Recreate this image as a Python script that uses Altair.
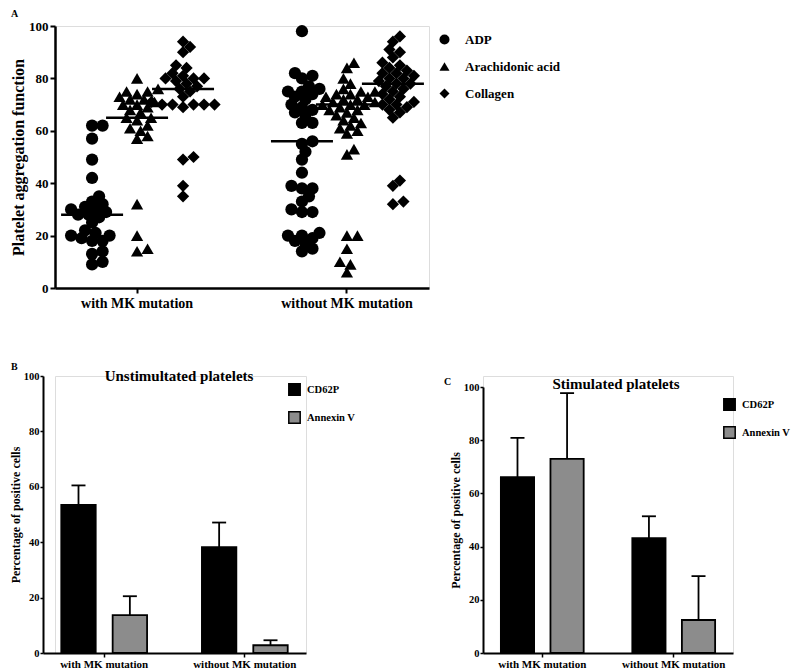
import altair as alt
import pandas as pd

SERIF = "Liberation Serif"

# ---------------- data ----------------
groups = ["with MK mutation", "without MK mutation"]
agonists = ["ADP", "Arachidonic acid", "Collagen"]

adp_with = [62, 62, 57, 49, 42, 35, 33, 32, 31, 30, 30, 29, 28, 28, 27, 25, 22, 21, 20, 20, 19, 18, 18, 14, 13, 10, 9]
aa_with = [80, 76, 75, 75, 74, 73, 72, 72, 71, 70, 70, 69, 68, 67, 65, 65, 64, 62, 61, 60, 58, 57, 32, 20, 15, 14]
col_with = [94, 92, 90, 85, 84, 82, 81, 80, 80, 80, 79, 78, 77, 76, 75, 73, 71, 70, 70, 70, 70, 70, 69, 50, 49, 39, 35]
adp_without = [98, 82, 81, 80, 77, 76, 75, 75, 74, 73, 72, 70, 69, 68, 67, 66, 63, 63, 56, 55, 52, 49, 44, 39, 38,
               38, 35, 33, 30, 29, 29, 21, 20, 20, 19, 18, 17, 15, 14]
aa_without = [86, 84, 80, 78, 76, 75, 75, 74, 74, 73, 73, 72, 72, 71, 71, 70, 70, 70, 69, 68, 68, 67, 66, 65, 64,
              63, 62, 61, 60, 59, 53, 51, 20, 20, 15, 10, 9, 6]
col_without = [96, 94, 91, 90, 88, 86, 85, 84, 83, 82, 82, 81, 80, 80, 79, 78, 78, 77, 76, 75, 74, 73, 72, 71, 70,
               70, 69, 68, 67, 65, 41, 39, 33, 32]
medians_with = [28, 65, 76]
medians_without = [56, 70, 78]

markers = ["CD62P", "Annexin V"]
unstim_mean_with = [53.5, 13.7]
unstim_sd_with = [7.0, 6.8]
unstim_mean_without = [38.2, 2.8]
unstim_sd_without = [8.9, 1.8]
stim_mean_with = [66.1, 73.0]
stim_sd_with = [14.8, 24.7]
stim_mean_without = [43.2, 12.4]
stim_sd_without = [8.2, 16.5]

# ---------------- layout helpers (sub-column centres inside a group, px) ----------------
sub_center = {"ADP": -45, "Arachidonic acid": 0, "Collagen": 46}


def swarm(values, unit=2.62, min_d=8.0, step=3.5):
    """deterministic beeswarm offsets (px) so dots do not pile exactly on each other"""
    order = sorted(range(len(values)), key=lambda i: values[i])
    placed = []
    offs = [0.0] * len(values)
    cands = [0.0]
    for j in range(1, 25):
        cands += [j * step, -j * step]
    for i in order:
        y = values[i] * unit
        for c in cands:
            if all((c - px) ** 2 + (y - py) ** 2 >= min_d ** 2 for px, py in placed):
                break
        placed.append((c, y))
        offs[i] = c
    return offs


rows = []
series = [
    (groups[0], "ADP", adp_with), (groups[0], "Arachidonic acid", aa_with), (groups[0], "Collagen", col_with),
    (groups[1], "ADP", adp_without), (groups[1], "Arachidonic acid", aa_without), (groups[1], "Collagen", col_without),
]
for g, a, vals in series:
    for v, o in zip(vals, swarm(vals)):
        rows.append({"group": g, "agonist": a, "value": v, "off": sub_center[a] + o})
dfA = pd.DataFrame(rows)

med_rows = []
for g, meds in zip(groups, [medians_with, medians_without]):
    for a, m in zip(agonists, meds):
        med_rows.append({"group": g, "agonist": a, "median": m, "off": sub_center[a]})
dfM = pd.DataFrame(med_rows)


def bar_df(mw, sw, mo, so):
    r = []
    for g, means, sds in [(groups[0], mw, sw), (groups[1], mo, so)]:
        for mk, m, s in zip(markers, means, sds):
            r.append({"group": g, "marker": mk, "mean": m, "upper": m + s})
    return pd.DataFrame(r)


dfB = bar_df(unstim_mean_with, unstim_sd_with, unstim_mean_without, unstim_sd_without)
dfC = bar_df(stim_mean_with, stim_sd_with, stim_mean_without, stim_sd_without)


def letter_layer(letter, lx, ly, size):
    return alt.Chart(pd.DataFrame({"t": [letter]})).mark_text(
        font=SERIF, fontWeight="bold", fontSize=size, align="left", baseline="middle", color="black").encode(
        x=alt.value(lx), y=alt.value(ly), text="t:N")


# ---------------- panel A ----------------
xA = alt.X("group:N", sort=groups,
           scale=alt.Scale(domain=groups, paddingInner=0.238, paddingOuter=0.01),
           axis=alt.Axis(title=None, labelAngle=0, labelFont=SERIF, labelFontWeight="bold", labelFontSize=14,
                         labelColor="black", domainColor="black", domainWidth=2.5, tickColor="black",
                         tickWidth=2, tickSize=5, labelPadding=3))
xoA = alt.XOffset("off:Q", scale=alt.Scale(domain=[-80, 80]))
yA = alt.Y("value:Q", scale=alt.Scale(domain=[0, 100], nice=False),
           axis=alt.Axis(values=[0, 20, 40, 60, 80, 100], title="Platelet aggregation function", grid=False,
                         labelFont=SERIF, labelFontWeight="bold", labelFontSize=13, labelColor="black",
                         titleFont=SERIF, titleFontWeight="bold", titleFontSize=16, titleColor="black",
                         titlePadding=2, domainColor="black", domainWidth=2.5, tickColor="black",
                         tickWidth=2, tickSize=5, labelPadding=2))

pts = alt.Chart(dfA).mark_point(filled=True, opacity=1, color="black", size=150).encode(
    x=xA, xOffset=xoA, y=yA,
    shape=alt.Shape("agonist:N", sort=agonists,
                    scale=alt.Scale(domain=agonists, range=["circle", "triangle-up", "diamond"]),
                    legend=alt.Legend(title=None, orient="none", legendX=383, legendY=7, padding=0,
                                      labelFont=SERIF, labelFontWeight="bold", labelFontSize=13,
                                      labelColor="black", symbolSize=100, symbolFillColor="black",
                                      symbolStrokeColor="black", labelOffset=14, rowPadding=11)),
)
med = alt.Chart(dfM).mark_tick(orient="horizontal", size=62, thickness=2.5, color="black", opacity=1).encode(
    x=alt.X("group:N", sort=groups), xOffset=alt.XOffset("off:Q"), y=alt.Y("median:Q"))

panelA = alt.layer(pts, med, letter_layer("A", -44, -12, 10)).properties(width=374, height=262)


# ---------------- panels B / C ----------------
def bar_panel(df, title, letter, w, h, xrange, yrange, yoff, pi, po, lx, ly, title_dx, title_offset,
              letter_x, letter_y):
    x = alt.X("group:N", sort=groups,
              scale=alt.Scale(domain=groups, range=xrange, paddingInner=pi, paddingOuter=po),
              axis=alt.Axis(title=None, labelAngle=0, labelFont=SERIF, labelFontWeight="bold", labelFontSize=11,
                            labelColor="black", domainColor="black", domainWidth=2, tickColor="black",
                            tickWidth=1.5, tickSize=4, labelPadding=1))
    xo = alt.XOffset("marker:N", sort=markers,
                     scale=alt.Scale(domain=markers, paddingInner=0.33, paddingOuter=0))
    y = alt.Y("mean:Q", scale=alt.Scale(domain=[0, 100], nice=False, range=yrange),
              axis=alt.Axis(values=[0, 20, 40, 60, 80, 100], title="Percentage of positive cells", grid=False,
                            labelFont=SERIF, labelFontWeight="bold", labelFontSize=10.5, labelColor="black",
                            titleFont=SERIF, titleFontWeight="bold", titleFontSize=12, titleColor="black",
                            titlePadding=1, domainColor="black", domainWidth=2, tickColor="black",
                            tickWidth=1.5, tickSize=3, labelPadding=1, offset=yoff))
    base = alt.Chart(df)
    err = base.mark_rule(color="black", strokeWidth=1.8, opacity=1).encode(x=x, xOffset=xo, y=y, y2="upper:Q")
    bars = base.mark_bar(stroke="black", strokeWidth=1.8, opacity=1).encode(
        x=x, xOffset=xo, y=y,
        color=alt.Color("marker:N", sort=markers,
                        scale=alt.Scale(domain=markers, range=["#000000", "#8c8c8c"]),
                        legend=alt.Legend(title=None, orient="none", legendX=lx, legendY=ly, padding=0,
                                          symbolType="square", symbolSize=130, symbolStrokeColor="black",
                                          symbolStrokeWidth=1.5, labelFont=SERIF, labelFontWeight="bold",
                                          labelFontSize=10.5, labelColor="black", labelOffset=6,
                                          rowPadding=9)))
    cap = base.mark_tick(orient="horizontal", size=14, thickness=1.8, color="black", opacity=1).encode(
        x=x, xOffset=xo, y="upper:Q")
    return alt.layer(err, bars, cap, letter_layer(letter, letter_x, letter_y, 10)).properties(
        width=w, height=h,
        title=alt.Title(title, anchor="middle", fontSize=15, font=SERIF, fontWeight="bold",
                        color="black", dx=title_dx, offset=title_offset))


panelB = bar_panel(dfB, "Unstimultated platelets", "B", 251, 277, [-12, 251], [277, 0], 12,
                   0.39, 0.13, 233, 7, -1.5, -22, -44, -9)
panelC = bar_panel(dfC, "Stimulated platelets", "C", 250, 277, [0, 250], [277, 11], 0,
                   0.37, 0.136, 240, 22, 8, -15.5, -39, 6)

bottom = alt.hconcat(panelB, panelC, spacing=86).resolve_scale(
    x="independent", y="independent", color="independent", xOffset="independent").resolve_legend(
    color="independent")

chart = alt.vconcat(panelA, bottom, spacing=50).properties(
    padding={"left": 0, "top": 0, "right": 0, "bottom": 0}
).configure_view(stroke=None).configure(background="white")

chart.save("out.html", embed_options={"renderer": "svg", "actions": False})
